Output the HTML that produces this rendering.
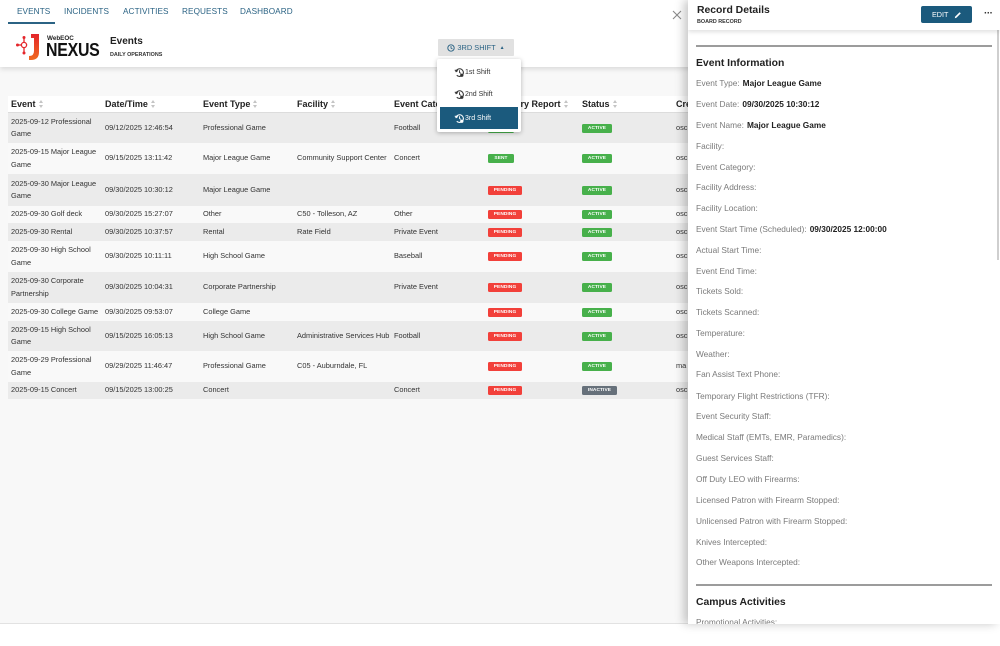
<!DOCTYPE html>
<html><head><meta charset="utf-8">
<style>
*{margin:0;padding:0;box-sizing:border-box}
html,body{width:1000px;height:646px;overflow:hidden;background:#fff;font-family:"Liberation Sans",Arial,sans-serif;color:#333}
.abs{position:absolute}
#main{position:absolute;left:0;top:0;width:1000px;height:624px;background:#f8f8f8;overflow:hidden;border-bottom:1px solid #e2e2e2}
#hdr{position:absolute;left:0;top:0;width:1000px;height:67px;background:#fff;box-shadow:0 2px 5px rgba(0,0,0,.13)}
.tab{position:absolute;top:7px;font-size:8.2px;color:#2b6384;letter-spacing:.1px;line-height:10px}
.row{position:absolute;left:8px;width:990px}
.cell{position:absolute;top:0;bottom:0;display:flex;align-items:center;font-size:7.4px;color:#333;line-height:12.5px;white-space:nowrap}
.hcell{position:absolute;top:0;bottom:0;display:flex;align-items:center;font-size:9px;font-weight:bold;color:#222;white-space:nowrap}
.sort{display:inline-block;margin-left:3px;width:5px;height:8px;position:relative}
.sort:before{content:"";position:absolute;left:0;top:0;border-left:2.5px solid transparent;border-right:2.5px solid transparent;border-bottom:3px solid #c4c4c4}
.sort:after{content:"";position:absolute;left:0;top:4.5px;border-left:2.5px solid transparent;border-right:2.5px solid transparent;border-top:3px solid #c4c4c4}
.b{display:inline-block;height:9px;line-height:9px;font-size:4.8px;font-weight:bold;color:#fff;text-align:center;border-radius:1.5px;letter-spacing:.1px}
.pend{background:#f2403a;width:34px}
.sent{background:#47b04b;width:26px}
.act{background:#47b04b;width:30px}
.inact{background:#66707a;width:35px}
#panel{position:absolute;left:688px;top:0;width:312px;height:624px;background:#fff;box-shadow:-4px 0 9px rgba(0,0,0,.22);overflow:hidden;z-index:20}
.f{position:absolute;left:8px;font-size:8.3px;color:#7a7a7a;line-height:12px;white-space:nowrap}
.f b{color:#222;margin-left:3px}
.dd-item{position:absolute;left:3px;width:78px;height:22px;display:flex;align-items:center;font-size:7px;color:#333}
</style></head><body>
<div id="main">
  <div id="hdr">
    <div class="tab" style="left:17px">EVENTS</div>
    <div class="abs" style="left:8px;top:22px;width:47px;height:2px;background:#2b6384"></div>
    <div class="tab" style="left:64px">INCIDENTS</div>
    <div class="tab" style="left:123px">ACTIVITIES</div>
    <div class="tab" style="left:182px">REQUESTS</div>
    <div class="tab" style="left:240px">DASHBOARD</div>
    <svg class="abs" style="left:14px;top:32px" width="30" height="30" viewBox="0 0 30 30">
      <defs><linearGradient id="g" x1="0" y1="0" x2="0" y2="1"><stop offset="0" stop-color="#e4252b"/><stop offset="1" stop-color="#f06a1e"/></linearGradient></defs>
      <line x1="4" y1="13" x2="13" y2="13" stroke="#e4252b" stroke-width="1.3"/>
      <line x1="10" y1="6" x2="10" y2="21" stroke="#e4252b" stroke-width="1.3"/>
      <circle cx="10" cy="13" r="2.6" fill="#fff" stroke="#e4252b" stroke-width="1.3"/>
      <circle cx="3.5" cy="13" r="1.5" fill="#e4252b"/>
      <circle cx="10" cy="5.5" r="1.5" fill="#e4252b"/>
      <circle cx="10" cy="21" r="1.5" fill="#e4252b"/>
      <path d="M17 2 H25 V20 Q25 28 17 28 L15 28 L15 24 Q20 24 20 19 V6 H17 Z" fill="url(#g)"/>
    </svg>
    <div class="abs" style="left:47px;top:35px;font-size:6.3px;font-weight:bold;color:#222">WebEOC</div>
    <div class="abs" style="left:46px;top:40px;font-size:18.5px;font-weight:bold;color:#111;transform:scaleX(.86);transform-origin:0 0;line-height:20px;letter-spacing:-.3px">NEXUS</div>
    <div class="abs" style="left:110px;top:36px;font-size:10px;font-weight:bold;color:#222">Events</div>
    <div class="abs" style="left:110px;top:52px;font-size:5.4px;font-weight:bold;color:#333">DAILY OPERATIONS</div>
    <svg class="abs" style="left:672px;top:10px" width="10" height="10" viewBox="0 0 10 10"><path d="M1 1L9 9M9 1L1 9" stroke="#8a8a8a" stroke-width="1.1"/></svg>
    <div class="abs" style="left:438px;top:39px;width:76px;height:17px;background:#e1e1e1;border-radius:1px;font-size:7.4px;color:#2b6384;display:flex;align-items:center;justify-content:center">
      <svg width="8" height="8" viewBox="0 0 10 10" style="margin-right:2px"><circle cx="5" cy="5" r="4" fill="none" stroke="#2b6384" stroke-width="1.2"/><path d="M5 2.5V5L6.8 6.2" fill="none" stroke="#2b6384" stroke-width="1.1"/></svg>3RD SHIFT <span style="font-size:5px;margin-left:4px">&#9650;</span>
    </div>
  </div>

  <div class="abs" style="left:8px;top:96px;width:990px;height:303px;border-left:1px solid #d8d8d8;border-top:1px solid #e6e6e6;border-bottom:1px solid #d8d8d8"></div>
  <div class="row" style="top:96px;height:17px;background:#fff;border-bottom:1px solid #dcdcdc">
    <div class="hcell" style="left:3px">Event<span class="sort"></span></div>
    <div class="hcell" style="left:97px">Date/Time<span class="sort"></span></div>
    <div class="hcell" style="left:195px">Event Type<span class="sort"></span></div>
    <div class="hcell" style="left:289px">Facility<span class="sort"></span></div>
    <div class="hcell" style="left:386px">Event Category<span class="sort"></span></div>
    <div class="hcell" style="left:480px">Summary Report<span class="sort"></span></div>
    <div class="hcell" style="left:574px">Status<span class="sort"></span></div>
    <div class="hcell" style="left:668px">Created</div>
  </div>

  <div class="row" style="top:113px;height:30px;background:#ebebeb">
    <div class="cell" style="left:3px">2025-09-12 Professional<br>Game</div>
    <div class="cell" style="left:97px">09/12/2025 12:46:54</div>
    <div class="cell" style="left:195px">Professional Game</div>
    <div class="cell" style="left:386px">Football</div>
    <div class="cell" style="left:480px"><span class="b sent">SENT</span></div>
    <div class="cell" style="left:574px"><span class="b act">ACTIVE</span></div>
    <div class="cell" style="left:668px">osc</div>
  </div>
  <div class="row" style="top:143px;height:31px;background:#f9f9f9">
    <div class="cell" style="left:3px">2025-09-15 Major League<br>Game</div>
    <div class="cell" style="left:97px">09/15/2025 13:11:42</div>
    <div class="cell" style="left:195px">Major League Game</div>
    <div class="cell" style="left:289px">Community Support Center</div>
    <div class="cell" style="left:386px">Concert</div>
    <div class="cell" style="left:480px"><span class="b sent">SENT</span></div>
    <div class="cell" style="left:574px"><span class="b act">ACTIVE</span></div>
    <div class="cell" style="left:668px">osc</div>
  </div>
  <div class="row" style="top:174px;height:32px;background:#ebebeb">
    <div class="cell" style="left:3px">2025-09-30 Major League<br>Game</div>
    <div class="cell" style="left:97px">09/30/2025 10:30:12</div>
    <div class="cell" style="left:195px">Major League Game</div>
    <div class="cell" style="left:480px"><span class="b pend">PENDING</span></div>
    <div class="cell" style="left:574px"><span class="b act">ACTIVE</span></div>
    <div class="cell" style="left:668px">osc</div>
  </div>
  <div class="row" style="top:206px;height:17px;background:#f9f9f9">
    <div class="cell" style="left:3px">2025-09-30 Golf deck</div>
    <div class="cell" style="left:97px">09/30/2025 15:27:07</div>
    <div class="cell" style="left:195px">Other</div>
    <div class="cell" style="left:289px">C50 - Tolleson, AZ</div>
    <div class="cell" style="left:386px">Other</div>
    <div class="cell" style="left:480px"><span class="b pend">PENDING</span></div>
    <div class="cell" style="left:574px"><span class="b act">ACTIVE</span></div>
    <div class="cell" style="left:668px">osc</div>
  </div>
  <div class="row" style="top:223px;height:18px;background:#ebebeb">
    <div class="cell" style="left:3px">2025-09-30 Rental</div>
    <div class="cell" style="left:97px">09/30/2025 10:37:57</div>
    <div class="cell" style="left:195px">Rental</div>
    <div class="cell" style="left:289px">Rate Field</div>
    <div class="cell" style="left:386px">Private Event</div>
    <div class="cell" style="left:480px"><span class="b pend">PENDING</span></div>
    <div class="cell" style="left:574px"><span class="b act">ACTIVE</span></div>
    <div class="cell" style="left:668px">osc</div>
  </div>
  <div class="row" style="top:241px;height:31px;background:#f9f9f9">
    <div class="cell" style="left:3px">2025-09-30 High School<br>Game</div>
    <div class="cell" style="left:97px">09/30/2025 10:11:11</div>
    <div class="cell" style="left:195px">High School Game</div>
    <div class="cell" style="left:386px">Baseball</div>
    <div class="cell" style="left:480px"><span class="b pend">PENDING</span></div>
    <div class="cell" style="left:574px"><span class="b act">ACTIVE</span></div>
    <div class="cell" style="left:668px">osc</div>
  </div>
  <div class="row" style="top:272px;height:31px;background:#ebebeb">
    <div class="cell" style="left:3px">2025-09-30 Corporate<br>Partnership</div>
    <div class="cell" style="left:97px">09/30/2025 10:04:31</div>
    <div class="cell" style="left:195px">Corporate Partnership</div>
    <div class="cell" style="left:386px">Private Event</div>
    <div class="cell" style="left:480px"><span class="b pend">PENDING</span></div>
    <div class="cell" style="left:574px"><span class="b act">ACTIVE</span></div>
    <div class="cell" style="left:668px">osc</div>
  </div>
  <div class="row" style="top:303px;height:18px;background:#f9f9f9">
    <div class="cell" style="left:3px">2025-09-30 College Game</div>
    <div class="cell" style="left:97px">09/30/2025 09:53:07</div>
    <div class="cell" style="left:195px">College Game</div>
    <div class="cell" style="left:480px"><span class="b pend">PENDING</span></div>
    <div class="cell" style="left:574px"><span class="b act">ACTIVE</span></div>
    <div class="cell" style="left:668px">osc</div>
  </div>
  <div class="row" style="top:321px;height:30px;background:#ebebeb">
    <div class="cell" style="left:3px">2025-09-15 High School<br>Game</div>
    <div class="cell" style="left:97px">09/15/2025 16:05:13</div>
    <div class="cell" style="left:195px">High School Game</div>
    <div class="cell" style="left:289px">Administrative Services Hub</div>
    <div class="cell" style="left:386px">Football</div>
    <div class="cell" style="left:480px"><span class="b pend">PENDING</span></div>
    <div class="cell" style="left:574px"><span class="b act">ACTIVE</span></div>
    <div class="cell" style="left:668px">osc</div>
  </div>
  <div class="row" style="top:351px;height:31px;background:#f9f9f9">
    <div class="cell" style="left:3px">2025-09-29 Professional<br>Game</div>
    <div class="cell" style="left:97px">09/29/2025 11:46:47</div>
    <div class="cell" style="left:195px">Professional Game</div>
    <div class="cell" style="left:289px">C05 - Auburndale, FL</div>
    <div class="cell" style="left:480px"><span class="b pend">PENDING</span></div>
    <div class="cell" style="left:574px"><span class="b act">ACTIVE</span></div>
    <div class="cell" style="left:668px">ma</div>
  </div>
  <div class="row" style="top:382px;height:17px;background:#ebebeb">
    <div class="cell" style="left:3px">2025-09-15 Concert</div>
    <div class="cell" style="left:97px">09/15/2025 13:00:25</div>
    <div class="cell" style="left:195px">Concert</div>
    <div class="cell" style="left:386px">Concert</div>
    <div class="cell" style="left:480px"><span class="b pend">PENDING</span></div>
    <div class="cell" style="left:574px"><span class="b inact">INACTIVE</span></div>
    <div class="cell" style="left:668px">osc</div>
  </div>

  <div class="abs" style="left:437px;top:59px;width:84px;height:73px;background:#fff;box-shadow:0 1px 5px rgba(0,0,0,.28);border-radius:2px;z-index:10">
    <div class="dd-item" style="top:2px;padding-left:14px"><svg width="11" height="11" viewBox="0 0 12 12"><path d="M2.2 4.5A4.2 4.2 0 1 1 3 9" fill="none" stroke="#333" stroke-width="1.2"/><path d="M1 3l1.3 2.2L4.3 3.8" fill="none" stroke="#333" stroke-width="1"/><circle cx="8.5" cy="9" r="1.8" fill="#333"/><path d="M6 3.5V6l1.5 1" fill="none" stroke="#333" stroke-width="1"/></svg>1st Shift</div>
    <div class="dd-item" style="top:24px;padding-left:14px"><svg width="11" height="11" viewBox="0 0 12 12"><path d="M2.2 4.5A4.2 4.2 0 1 1 3 9" fill="none" stroke="#333" stroke-width="1.2"/><path d="M1 3l1.3 2.2L4.3 3.8" fill="none" stroke="#333" stroke-width="1"/><circle cx="8.5" cy="9" r="1.8" fill="#333"/><path d="M6 3.5V6l1.5 1" fill="none" stroke="#333" stroke-width="1"/></svg>2nd Shift</div>
    <div class="dd-item" style="top:48px;background:#1b5a7d;color:#fff;padding-left:14px"><svg width="11" height="11" viewBox="0 0 12 12"><path d="M2.2 4.5A4.2 4.2 0 1 1 3 9" fill="none" stroke="#fff" stroke-width="1.2"/><path d="M1 3l1.3 2.2L4.3 3.8" fill="none" stroke="#fff" stroke-width="1"/><circle cx="8.5" cy="9" r="1.8" fill="#fff"/><path d="M6 3.5V6l1.5 1" fill="none" stroke="#fff" stroke-width="1"/></svg>3rd Shift</div>
  </div>
</div>

<div id="panel">
  <div class="abs" style="left:0;top:0;width:312px;height:30px;background:#fff;box-shadow:0 2px 4px rgba(0,0,0,.12);z-index:2"></div>
  <div class="abs" style="left:9px;top:5px;font-size:10.4px;font-weight:bold;color:#222;z-index:3">Record Details</div>
  <div class="abs" style="left:9px;top:19px;font-size:5.4px;font-weight:bold;color:#333;z-index:3">BOARD RECORD</div>
  <div class="abs" style="left:233px;top:6px;width:51px;height:17px;background:#1b5a7d;border-radius:2px;z-index:3;color:#fff;font-size:7.2px;display:flex;align-items:center;padding-left:11px">EDIT
    <svg width="8" height="8" viewBox="0 0 10 10" style="margin-left:6px"><path d="M1 9L1.5 7L7 1.5L8.5 3L3 8.5Z" fill="#fff"/></svg></div>
  <div class="abs" style="left:296px;top:8px;font-size:10px;font-weight:bold;color:#333;z-index:3;letter-spacing:-.5px">&middot;&middot;&middot;</div>
  <div class="abs" style="left:309px;top:30px;width:2px;height:230px;background:#cfcfcf"></div>

  <div class="abs" style="left:8px;top:45px;width:296px;height:2px;background:#9c9c9c"></div>
  <div class="abs" style="left:8px;top:58px;font-size:10.4px;font-weight:bold;color:#222">Event Information</div>

  <div class="f" style="top:77px">Event Type:<b>Major League Game</b></div>
  <div class="f" style="top:98px">Event Date:<b>09/30/2025 10:30:12</b></div>
  <div class="f" style="top:119px">Event Name:<b>Major League Game</b></div>
  <div class="f" style="top:140px">Facility:</div>
  <div class="f" style="top:161px">Event Category:</div>
  <div class="f" style="top:181px">Facility Address:</div>
  <div class="f" style="top:202px">Facility Location:</div>
  <div class="f" style="top:223px">Event Start Time (Scheduled):<b>09/30/2025 12:00:00</b></div>
  <div class="f" style="top:244px">Actual Start Time:</div>
  <div class="f" style="top:265px">Event End Time:</div>
  <div class="f" style="top:285px">Tickets Sold:</div>
  <div class="f" style="top:306px">Tickets Scanned:</div>
  <div class="f" style="top:327px">Temperature:</div>
  <div class="f" style="top:348px">Weather:</div>
  <div class="f" style="top:368px">Fan Assist Text Phone:</div>
  <div class="f" style="top:390px">Temporary Flight Restrictions (TFR):</div>
  <div class="f" style="top:410px">Event Security Staff:</div>
  <div class="f" style="top:431px">Medical Staff (EMTs, EMR, Paramedics):</div>
  <div class="f" style="top:452px">Guest Services Staff:</div>
  <div class="f" style="top:473px">Off Duty LEO with Firearms:</div>
  <div class="f" style="top:494px">Licensed Patron with Firearm Stopped:</div>
  <div class="f" style="top:515px">Unlicensed Patron with Firearm Stopped:</div>
  <div class="f" style="top:536px">Knives Intercepted:</div>
  <div class="f" style="top:556px">Other Weapons Intercepted:</div>

  <div class="abs" style="left:8px;top:584px;width:296px;height:2px;background:#9c9c9c"></div>
  <div class="abs" style="left:8px;top:597px;font-size:10.4px;font-weight:bold;color:#222">Campus Activities</div>
  <div class="f" style="top:616px">Promotional Activities:</div>
</div>
</body></html>
